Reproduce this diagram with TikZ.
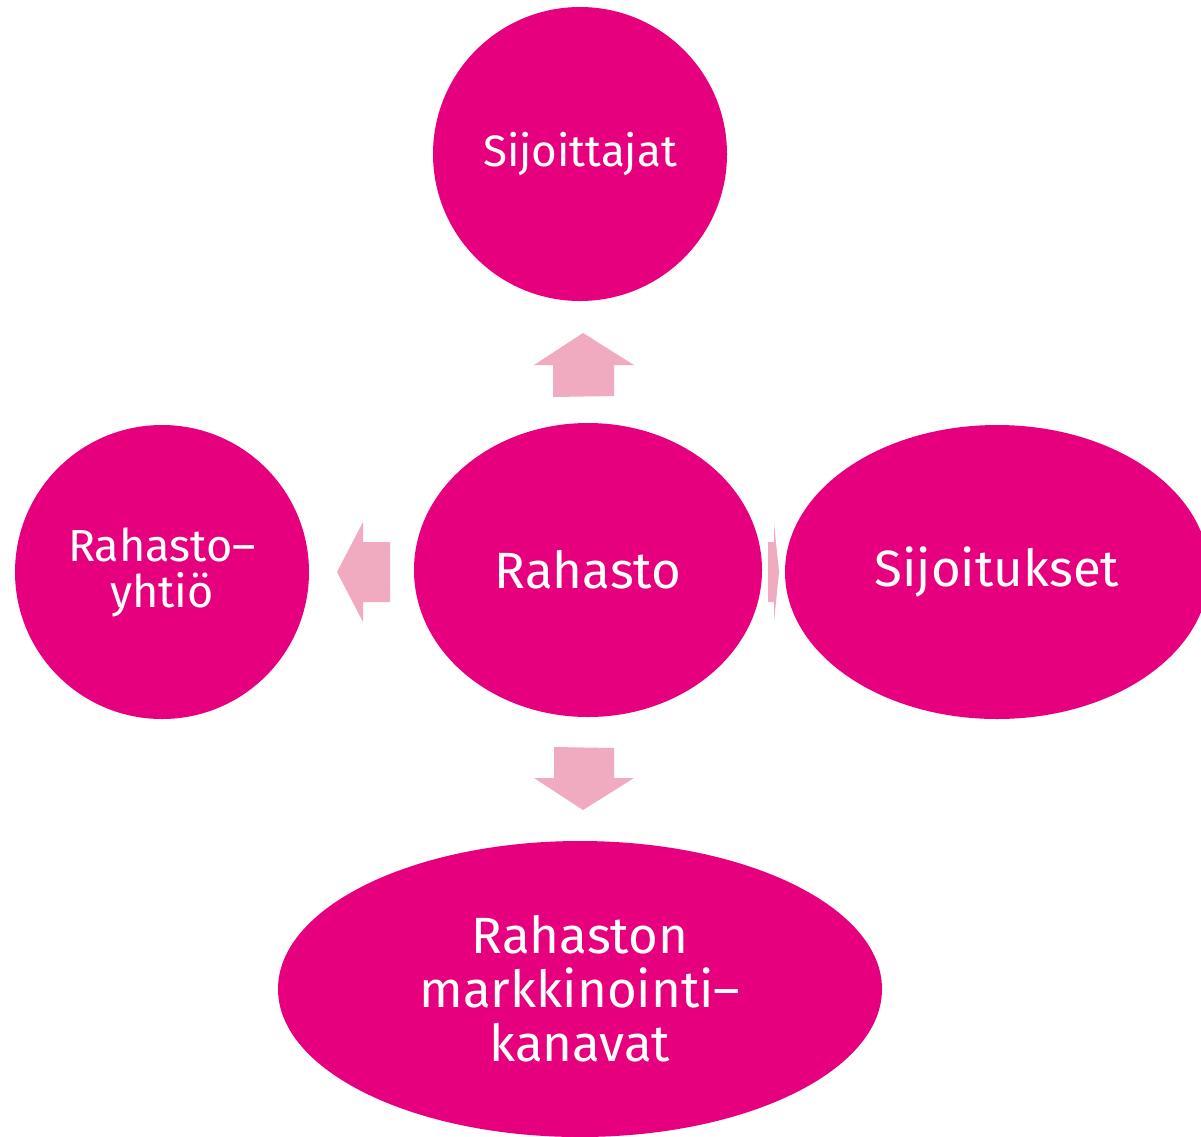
\documentclass[tikz,border=0pt]{standalone}
\usepackage{fontspec}
\setmainfont{Fira Sans}
\usetikzlibrary{shapes.geometric}
\definecolor{mag}{HTML}{E6007E}
\definecolor{arr}{HTML}{F0ABC0}
\begin{document}
\begin{tikzpicture}[x=1pt,y=-1pt,
  blob/.style={ellipse, fill=mag, text=white, inner sep=0pt, align=center},
  bigtext/.style={font=\fontsize{51}{54}\selectfont},
  arrowshape/.style={fill=arr, draw=none}]
\useasboundingbox (0,0) rectangle (1201,1136);
\begin{scope}
\clip (0,0) rectangle (1201,1136);
\node[blob, minimum width=294pt, minimum height=294pt, font=\fontsize{44}{48}\selectfont] (inv) at (580,154) {Sijoittajat};
\node[blob, minimum width=348pt, minimum height=294pt, bigtext] (fund) at (588,570) {Rahasto};
\node[blob, minimum width=294pt, minimum height=294pt, font=\fontsize{45}{46}\selectfont] (comp) at (162,572) {Rahasto–\\yhtiö};
\node[blob, minimum width=424pt, minimum height=294pt, bigtext] (invest) at (997,572) {Sijoitukset};
\node[blob, minimum width=604pt, minimum height=296pt, bigtext] (chan) at (580,989) {Rahaston\\markkinointi–\\kanavat};
\end{scope}
\fill[arrowshape] (553,397) -- (553,365) -- (534,365) -- (583,333) -- (634,365) -- (614,365) -- (614,396) -- cycle;
\fill[arrowshape] (554,747) -- (614,748) -- (614,778) -- (634,778) -- (583,810) -- (534,778) -- (554,778) -- cycle;
\fill[arrowshape] (390,542) -- (363,542) -- (363,522) -- (337,572) -- (363,622) -- (363,602) -- (390,602) -- cycle;
\fill[arrowshape] (768,542) -- (774,542) -- (774,523) -- (779,572) -- (774,622) -- (774,602) -- (768,602) -- cycle;
\end{tikzpicture}
\end{document}
